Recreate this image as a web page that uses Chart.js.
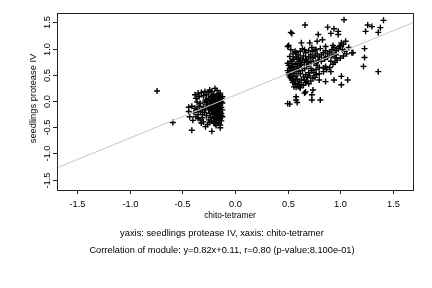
<!DOCTYPE html>
<html>
<head>
<meta charset="utf-8">
<script src="https://cdn.jsdelivr.net/npm/chart.js@4/dist/chart.umd.min.js"></script>
<style>
  html, body { margin: 0; padding: 0; background: #fff; }
  canvas { display: block; }
</style>
</head>
<body>
<canvas id="c" width="432" height="288"></canvas>
<script>
// chito-tetramer (x) vs seedlings protease IV (y)
var clusterLow = [
  [-0.74,0.19],[-0.59,-0.41],[-0.41,-0.56],[-0.22,-0.58],[-0.28,-0.49],[-0.14,-0.51],[-0.44,-0.12],
  [-0.44,-0.2],[-0.43,-0.3],[-0.38,-0.14],[-0.40,-0.37],[-0.35,-0.33],[-0.30,-0.40],[-0.26,-0.45],
  [-0.18,-0.47],[-0.16,-0.42],[-0.20,-0.40],
  [-0.35,0.15],[-0.38,0.12],[-0.285,0.18],[-0.24,0.21],[-0.19,0.24],[-0.14,0.15],[-0.37,0.05],
  [-0.36,-0.02],[-0.33,-0.05],[-0.30,0.10],[-0.32,0.16],[-0.27,0.12],[-0.25,0.16],[-0.22,0.18],
  [-0.20,0.12],[-0.17,0.20],[-0.15,0.08],[-0.13,0.05],[-0.34,0.08],[-0.28,0.02],
  [-0.25,0.05],[-0.23,0.02],[-0.21,0.06],[-0.19,0.03],[-0.17,0.05],[-0.15,0.02],[-0.13,-0.01],
  [-0.24,-0.04],[-0.22,-0.06],[-0.20,-0.03],[-0.18,-0.07],[-0.16,-0.05],[-0.14,-0.08],[-0.12,-0.04],
  [-0.26,-0.10],[-0.23,-0.12],[-0.21,-0.09],[-0.19,-0.13],[-0.17,-0.11],[-0.15,-0.14],[-0.13,-0.12],
  [-0.25,-0.17],[-0.22,-0.19],[-0.20,-0.16],[-0.18,-0.20],[-0.16,-0.18],[-0.14,-0.21],[-0.12,-0.17],
  [-0.24,-0.24],[-0.21,-0.26],[-0.19,-0.23],[-0.17,-0.27],[-0.15,-0.25],[-0.13,-0.28],[-0.23,-0.31],
  [-0.20,-0.33],[-0.18,-0.30],[-0.16,-0.34],[-0.14,-0.32],[-0.27,-0.28],[-0.29,-0.22],[-0.31,-0.26],
  [-0.33,-0.20],[-0.28,-0.15],[-0.30,-0.12],[-0.27,-0.06],[-0.29,-0.02],[-0.31,-0.32],[-0.33,-0.36],
  [-0.25,-0.36],[-0.22,-0.38],[-0.13,-0.38],[-0.15,-0.02],[-0.17,0.09],[-0.19,-0.01],[-0.21,0.10],
  [-0.23,0.08],[-0.14,0.11],[-0.12,0.08],[-0.26,0.00],[-0.13,-0.24],[-0.12,-0.30],[-0.24,-0.14],
  [-0.35,-0.26],[-0.37,-0.30],[-0.32,-0.42],[-0.39,-0.22],[-0.41,-0.10],
  [-0.16,0.14],[-0.18,0.00],[-0.16,-0.09],[-0.18,-0.15],[-0.14,-0.16],[-0.16,-0.23],[-0.18,-0.36],
  [-0.15,-0.37],[-0.20,-0.22],[-0.22,-0.13],[-0.14,-0.46],[-0.19,-0.43],[-0.24,-0.41],[-0.21,0.01],
  [-0.34,-0.10],[-0.36,-0.16],[-0.31,-0.17]
];
var clusterHigh = [
  [1.035,1.55],[1.41,1.54],[0.665,1.45],[0.88,1.41],[0.94,1.38],[0.98,1.33],[1.26,1.45],[1.30,1.42],
  [1.38,1.40],[1.24,1.33],[1.36,1.31],[0.54,1.29],[0.79,1.27],[0.91,1.29],[0.83,1.17],[0.78,1.14],
  [0.71,1.11],[0.63,1.11],[0.50,1.04],[0.53,1.31],[0.98,1.27],[1.01,1.11],[1.05,1.14],[0.51,1.06],
  [0.58,0.92],[0.66,0.98],[0.74,0.95],[0.77,0.98],[0.86,1.04],[0.93,1.06],[0.94,0.88],[0.99,1.04],
  [1.03,1.08],[1.08,1.02],[1.12,0.92],[0.55,0.79],[0.61,0.76],[0.67,0.79],[0.72,0.76],[0.77,0.73],
  [0.86,0.83],[0.91,0.76],[0.96,0.82],
  [0.51,0.54],[0.53,0.44],[0.55,0.35],[0.56,0.27],[0.61,0.27],[0.66,0.40],[0.70,0.54],[0.74,0.44],
  [0.77,0.60],[0.84,0.63],[0.86,0.66],[0.91,0.56],[0.94,0.40],[1.01,0.47],[1.01,0.31],[1.07,0.40],
  [0.86,0.37],[0.80,0.40],
  [0.52,-0.06],[0.58,0.02],[0.73,0.02],[0.81,0.02],[0.58,0.08],[0.66,0.15],[0.74,0.21],[0.50,-0.05],
  [0.59,-0.03],[0.73,0.12],[0.67,0.17],[0.68,0.38],
  [1.23,1.0],[1.23,0.83],[1.22,0.66],[1.36,0.56],[1.11,0.92],
  [0.52,0.62],[0.53,0.58],[0.51,0.50],[0.52,0.46],[0.54,0.40],[0.55,0.36],[0.57,0.33],[0.60,0.32],
  [0.63,0.31],[0.55,0.66],[0.57,0.70],[0.59,0.72],[0.62,0.68],[0.58,0.60],[0.60,0.56],[0.62,0.52],
  [0.64,0.58],[0.66,0.62],[0.68,0.66],[0.70,0.70],[0.72,0.62],[0.65,0.46],[0.67,0.50],[0.69,0.45],
  [0.71,0.48],[0.63,0.40],[0.58,0.48],[0.56,0.53],[0.54,0.71],[0.53,0.76],[0.56,0.80],[0.58,0.84],
  [0.60,0.88],[0.62,0.82],[0.64,0.78],[0.66,0.74],[0.68,0.80],[0.70,0.84],[0.72,0.88],[0.74,0.82],
  [0.76,0.86],[0.78,0.90],[0.80,0.84],[0.82,0.88],[0.84,0.92],[0.86,0.96],[0.88,0.90],[0.90,0.94],
  [0.92,0.98],[0.94,1.02],[0.96,0.96],[0.98,1.00],[1.00,1.05],[1.02,0.98],[0.75,0.72],[0.78,0.68],
  [0.80,0.64],[0.82,0.76],[0.79,0.78],[0.73,0.58],[0.75,0.54],[0.77,0.50],[0.62,0.95],[0.64,1.00],
  [0.67,0.92],[0.70,0.96],[0.73,1.02],[0.76,0.98],[0.81,1.00],[0.85,0.80],[0.88,0.84],[0.92,0.86],
  [0.96,0.88],[0.57,0.95],[0.55,0.90],[0.52,0.85],[0.57,0.40],[0.59,0.42],[0.61,0.36],[0.60,0.28],
  [0.62,0.25],[0.58,0.26],[0.65,0.30],[0.67,0.35],[0.70,0.33],[0.72,0.38],[0.76,0.45],[0.80,0.52],
  [0.84,0.56],[0.87,0.60],[0.90,0.64],[0.93,0.70],[0.95,0.74],[0.97,0.78],[1.00,0.82],[1.03,0.86],
  [1.06,0.90],[1.04,0.95],[0.53,0.98],[0.50,0.72],[0.51,0.68],[0.50,0.58],[0.53,0.52],[0.55,0.47],
  [0.54,0.64],[0.56,0.58],[0.59,0.65],[0.61,0.62],[0.63,0.70],[0.60,0.80],[0.65,0.86],[0.69,0.74]
];
var slope = 0.82;
var intercept = 0.11;
var xRange = [-1.69, 1.69];
var yRange = [-1.70, 1.68];
var xTicks = [-1.5, -1.0, -0.5, 0.0, 0.5, 1.0, 1.5];
var yTicks = [-1.5, -1.0, -0.5, 0.0, 0.5, 1.0, 1.5];
var xTitle = 'chito-tetramer';
var yTitle = 'seedlings protease IV';
var subLines = [
  'yaxis: seedlings protease IV, xaxis: chito-tetramer',
  'Correlation of module: y=0.82x+0.11, r=0.80 (p-value:8.100e-01)'
];

var points = clusterLow.concat(clusterHigh).map(function (p) { return { x: p[0], y: p[1] }; });
var fitLine = xRange.map(function (x) { return { x: x, y: slope * x + intercept }; });

var FONT = '"Liberation Sans", Arial, sans-serif';

var frame = {
  id: 'frame',
  afterDraw: function (chart) {
    var c = chart.ctx, a = chart.chartArea;
    var xs = chart.scales.x, ys = chart.scales.y;
    c.save();
    // box
    c.lineWidth = 1;
    c.strokeStyle = '#222';
    c.strokeRect(Math.round(a.left) + 0.5, Math.round(a.top) + 0.5,
                 Math.round(a.right - a.left), Math.round(a.bottom - a.top));
    c.fillStyle = '#000';
    c.font = '9.3px ' + FONT;
    // x ticks
    c.textAlign = 'center';
    c.textBaseline = 'middle';
    xTicks.forEach(function (v) {
      var px = Math.round(xs.getPixelForValue(v)) + 0.5;
      c.beginPath();
      c.moveTo(px, a.bottom);
      c.lineTo(px, a.bottom + 4);
      c.stroke();
      c.fillText(v.toFixed(1), px, a.bottom + 14);
    });
    // y ticks, rotated
    yTicks.forEach(function (v) {
      var py = Math.round(ys.getPixelForValue(v)) + 0.5;
      c.beginPath();
      c.moveTo(a.left, py);
      c.lineTo(a.left - 4, py);
      c.stroke();
      c.save();
      c.translate(a.left - 10, py);
      c.rotate(-Math.PI / 2);
      c.fillText(v.toFixed(1), 0, 0);
      c.restore();
    });
    // titles
    c.save();
    c.translate(a.left - 24, (a.top + a.bottom) / 2 - 3);
    c.rotate(-Math.PI / 2);
    c.fillText(yTitle, 0, 0);
    c.restore();
    c.fillText(subLines[0], 222, a.bottom + 43);
    c.fillText(subLines[1], 222, a.bottom + 60);
    c.font = '8.4px ' + FONT;
    c.fillText(xTitle, 230, a.bottom + 26);
    c.restore();
  }
};

new Chart(document.getElementById('c').getContext('2d'), {
  type: 'scatter',
  data: {
    datasets: [{
      type: 'line',
      data: fitLine,
      borderColor: '#c8c8c8',
      borderWidth: 1,
      pointRadius: 0,
      fill: false
    }, {
      data: points,
      pointStyle: 'cross',
      pointRadius: 3,
      borderColor: '#000',
      backgroundColor: '#000',
      borderWidth: 1.4
    }]
  },
  options: {
    responsive: false,
    animation: false,
    events: [],
    layout: { padding: { left: 57, right: 19, top: 13, bottom: 98 } },
    plugins: { legend: { display: false }, tooltip: { enabled: false } },
    scales: {
      x: {
        type: 'linear', min: xRange[0], max: xRange[1],
        grid: { display: false, drawTicks: false },
        border: { display: false },
        ticks: { display: false }
      },
      y: {
        type: 'linear', min: yRange[0], max: yRange[1],
        grid: { display: false, drawTicks: false },
        border: { display: false },
        ticks: { display: false }
      }
    }
  },
  plugins: [frame]
});
</script>
</body>
</html>
